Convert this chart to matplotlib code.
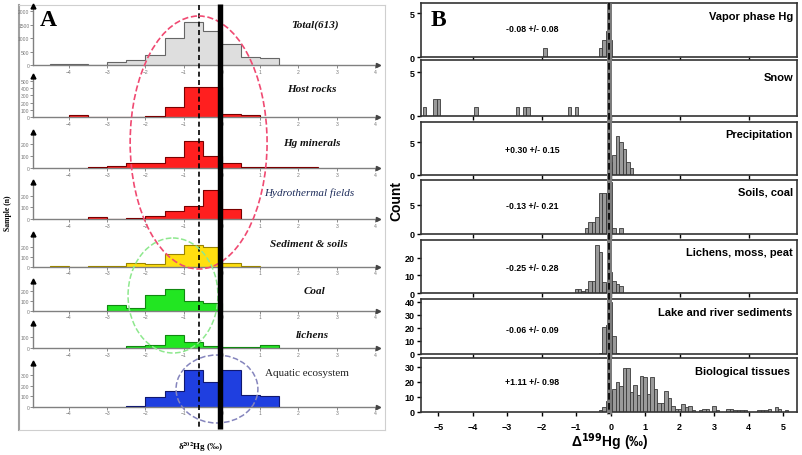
import numpy as np
import matplotlib.pyplot as plt
from matplotlib.patches import Ellipse

plt.rcParams['font.family'] = ['Liberation Sans', 'DejaVu Sans']

W, H = 803, 456

# ---------------- Panel A data (delta202Hg, 0.5 permil bins) ----------------
a_names = ['Total(613)', 'Host rocks', 'Hg minerals', 'Hydrothermal fields',
           'Sediment & soils', 'Coal', 'lichens', 'Aquatic ecosystem']
a_starts = [-4.5, -4.0, -3.5, -3.5, -4.5, -3.0, -2.5, -2.5]
total_n = [20, 55, 15, 130, 175, 375, 1020, 1620, 1250, 800, 300, 265, 10]
host_n = [25, 0, 0, 4, 22, 145, 418, 418, 45, 36]
hgmin_n = [6, 14, 39, 39, 94, 228, 103, 39, 6, 6, 6, 6]
hydro_n = [15, 0, 12, 28, 71, 114, 248, 85]
sed_n = [6, 0, 5, 8, 35, 25, 127, 220, 200, 33, 5]
coal_n = [57, 23, 160, 217, 93, 77]
lichA_n = [16, 28, 125, 53, 16, 6, 6, 31]
aqua_n = [5, 88, 145, 347, 230, 347, 114, 98]
a_counts = [total_n, host_n, hgmin_n, hydro_n, sed_n, coal_n, lichA_n, aqua_n]
a_ytop = [2200, 570, 302, 319, 327, 300, 234, 414]
a_yticks = [[0, 500, 1000, 1500, 2000], [0, 100, 200, 300, 400, 500],
            [0, 100, 200], [0, 100, 200], [0, 100, 200], [0, 100, 200],
            [0, 100], [0, 100, 200, 300]]
a_fill = ['#dedede', '#ff1f1f', '#ff1f1f', '#ff1f1f', '#ffdf10', '#22e622', '#22e622', '#1f3fe0']
a_edge = ['#666666', '#7a0000', '#7a0000', '#7a0000', '#9a8400', '#118811', '#118811', '#101870']

# ---------------- Panel B data (Delta199Hg, 0.1 permil bins) ----------------
b_names = ['Vapor phase Hg', 'Snow', 'Precipitation', 'Soils, coal',
           'Lichens, moss, peat', 'Lake and river sediments', 'Biological tissues']
b_stats = ['-0.08 +/- 0.08', '', '+0.30 +/- 0.15', '-0.13 +/- 0.21',
           '-0.25 +/- 0.28', '-0.06 +/- 0.09', '+1.11 +/- 0.98']
vapor_x = [-1.9, -0.3, -0.2, -0.1, 0.0]
vapor_n = [1, 1, 2, 3, 2]
snow_x = [-5.4, -5.1, -5.0, -3.9, -2.7, -2.5, -2.4, -1.2, -1.0]
snow_n = [1, 2, 2, 1, 1, 1, 1, 1, 1]
precip_x = [0.0, 0.1, 0.2, 0.3, 0.4, 0.5, 0.6]
precip_n = [2, 3, 6, 5, 4, 2, 1]
soil_x = [-0.7, -0.6, -0.5, -0.4, -0.3, -0.2, -0.1, 0.0, 0.1, 0.3]
soil_n = [1, 2, 2, 3, 7, 7, 7, 9, 1, 1]
lich_x = [-1.0, -0.9, -0.8, -0.7, -0.6, -0.5, -0.4, -0.3, -0.2, -0.1, 0.0, 0.1, 0.2, 0.3]
lich_n = [2, 2, 1, 2, 7, 7, 27, 23, 6, 5, 12, 7, 5, 4]
lake_x = [-0.3, -0.2, -0.1, 0.0, 0.1, 0.2]
lake_n = [1, 21, 22, 40, 14, 1]
bio_x = [-0.3, -0.2, -0.1, 0.0, 0.1, 0.2, 0.3, 0.4, 0.5, 0.6, 0.7, 0.8, 0.9, 1.0,
         1.1, 1.2, 1.3, 1.4, 1.5, 1.6, 1.7, 1.8, 1.9, 2.0, 2.1, 2.2, 2.3, 2.4,
         2.6, 2.7, 2.8, 3.0, 3.1, 3.4, 3.5, 3.6, 3.7, 3.8, 3.9, 4.3, 4.4, 4.5,
         4.6, 4.8, 4.9, 5.1]
bio_n = [1, 3, 7, 14, 15, 20, 17, 29, 29, 13, 18, 11, 24, 23,
         12, 23, 15, 6, 6, 14, 9, 4, 2, 2, 5, 3, 4, 1,
         1, 2, 2, 4, 1, 2, 2, 1, 1, 1, 1, 1, 1, 1,
         2, 3, 2, 1]
b_x = [vapor_x, snow_x, precip_x, soil_x, lich_x, lake_x, bio_x]
b_n = [vapor_n, snow_n, precip_n, soil_n, lich_n, lake_n, bio_n]
b_ytop = [6.2, 6.4, 8.1, 9.3, 30, 42, 35.8]
b_yticks = [[0, 5], [0, 5], [0, 5], [0, 5], [0, 10, 20], [0, 10, 20, 30, 40], [0, 10, 20, 30]]


fig = plt.figure(figsize=(W / 100, H / 100), dpi=100)


def px_axes(left, top, right, bottom, **kw):
    return fig.add_axes([left / W, 1 - bottom / H, (right - left) / W, (bottom - top) / H], **kw)


def fig_text(x, y, s, **kw):
    return fig.text(x / W, 1 - y / H, s, **kw)


# ---------------- Panel A ----------------
frame = px_axes(19, 6, 385, 431)
frame.set_xticks([])
frame.set_yticks([])
for sp in frame.spines.values():
    sp.set_color('#cfcfcf')
frame.spines['left'].set_color('#a0a0a0')
frame.spines['left'].set_linewidth(1.5)

a_xlim = (-4.94, 4.08)
a_boxes = [(7, 66), (76.7, 118.3), (132.7, 169), (182.7, 220),
           (235, 267.7), (281.7, 311.7), (324, 349), (364, 407.7)]
for i, (top, bot) in enumerate(a_boxes):
    ax = px_axes(33, top, 378, bot)
    ax.patch.set_alpha(0)
    counts = a_counts[i]
    edges = a_starts[i] + 0.5 * np.arange(len(counts) + 1)
    ax.stairs(counts, edges, fill=True, color=a_fill[i], zorder=2)
    ax.stairs(counts, edges, color=a_edge[i], lw=0.8, zorder=3)
    ax.set_xlim(*a_xlim)
    ax.set_ylim(0, a_ytop[i])
    for s in ['top', 'right']:
        ax.spines[s].set_visible(False)
    for s in ['left', 'bottom']:
        ax.spines[s].set_color('#808080')
        ax.spines[s].set_linewidth(1.0)
    ax.set_xticks(range(-4, 5))
    ax.set_yticks(a_yticks[i])
    ax.tick_params(length=2, width=0.6, colors='#777777', labelsize=3.6, pad=0.6)
    ax.plot([a_xlim[0]], [a_ytop[i]], marker='^', color='k', ms=3.5, clip_on=False, zorder=5)
    ax.plot([a_xlim[1]], [0], marker='>', color='#444444', ms=3, clip_on=False, zorder=5)

ova = px_axes(33, 0, 378, 456)
ova.set_xlim(*a_xlim)
ova.set_ylim(456, 0)
ova.axis('off')
ova.plot([-0.6, -0.6], [6, 431], color='k', lw=1.2, ls=(0, (3, 2)), zorder=6)
ova.plot([-0.05, -0.05], [5, 430], color='k', lw=3.9, solid_capstyle='butt', zorder=7)
ova.add_patch(Ellipse((-0.61, 143.5), 3.58, 253, fill=False, ec='#f04a72', ls='--', lw=1.2, zorder=6))
ova.add_patch(Ellipse((-1.28, 296.5), 2.35, 115, fill=False, ec='#8ee88e', ls='--', lw=1.1, zorder=6))
ova.add_patch(Ellipse((-0.13, 390), 2.14, 68, fill=False, ec='#8585bd', ls='--', lw=1.1, zorder=6))

serif = ['Liberation Serif', 'DejaVu Serif']
a_label_pos = [(315, 25), (312, 89), (312, 144), (309, 193),
               (309, 245), (315, 291.5), (312.5, 336), (307, 374)]
for i, (x, y) in enumerate(a_label_pos):
    style, weight, col = 'italic', 'bold', '#111111'
    if i == 3:
        weight, col = 'normal', '#1c2b5a'
    if i == 7:
        style, weight, col = 'normal', 'normal', '#222222'
    fig_text(x, y, a_names[i], ha='center', va='center', fontsize=8,
             family=serif, style=style, weight=weight, color=col)

fig_text(48.5, 20, 'A', ha='center', va='center', fontsize=17, family=serif, weight='bold')
fig_text(8, 213, 'Sample (n)', ha='center', va='center', rotation=90, fontsize=5.5,
         family=serif, weight='bold')
fig_text(201, 447.5, r'δ$^{\mathbf{202}}$Hg (‰)', ha='center', va='center', fontsize=6.5,
         family=serif, weight='bold', math_fontfamily='stix')

# ---------------- Panel B ----------------
b_xlim = (-5.5, 5.4)
b_boxes = [(4, 58), (61, 117), (123, 176), (181, 235), (241, 294), (300, 355), (359, 413)]
b_title_y = [0.765, 0.70, 0.77, 0.78, 0.78, 0.77, 0.75]
b_stat_y = [0.53, 0.5, 0.48, 0.52, 0.48, 0.45, 0.57]
for i, (top, bot) in enumerate(b_boxes):
    ax = px_axes(421, top, 797, bot)
    ax.bar(b_x[i], b_n[i], width=0.1, color='#9a9a9a', edgecolor='#3a3a3a', lw=0.6, zorder=2)
    ax.set_xlim(*b_xlim)
    ax.set_ylim(0, b_ytop[i])
    for sp in ax.spines.values():
        sp.set_color('#333333')
        sp.set_linewidth(1.2)
    ax.set_yticks(b_yticks[i])
    ax.tick_params(axis='y', length=3, width=1, direction='out', labelsize=6.5, pad=1.5)
    for lab in ax.get_yticklabels():
        lab.set_fontweight('bold')
    if i < len(b_boxes) - 1:
        ax.set_xticks([-4, -2, 0, 2, 4])
        ax.tick_params(axis='x', length=3, width=1, direction='out', labelbottom=False)
    else:
        ax.set_xticks(range(-5, 6))
        ax.tick_params(axis='x', length=3, width=1, direction='out', labelsize=6.5, pad=4)
        for lab in ax.get_xticklabels():
            lab.set_fontweight('bold')
    ax.text(0.989 if i < 6 else 0.982, b_title_y[i], b_names[i], transform=ax.transAxes,
            ha='right', va='center', fontsize=8, weight='bold')
    if b_stats[i]:
        ax.text(-2.28, b_stat_y[i], b_stats[i], transform=ax.get_xaxis_transform(),
                ha='center', va='center', fontsize=6.3, weight='bold')

ovb = px_axes(421, 0, 797, 456)
ovb.set_xlim(*b_xlim)
ovb.set_ylim(456, 0)
ovb.axis('off')
ovb.plot([-0.05, -0.05], [4, 415], color='#7c7c7c', lw=3.6, solid_capstyle='butt', zorder=6)
ovb.plot([-0.04, -0.04], [4, 415], color='k', lw=1.2, ls=(0, (4, 2)), zorder=7)

fig_text(438.5, 20, 'B', ha='center', va='center', fontsize=17, family=serif, weight='bold')
fig_text(396, 201, 'Count', ha='center', va='center', rotation=90, fontsize=10, weight='bold')
fig_text(610, 442, r'Δ$^{\mathbf{199}}$Hg (‰)', ha='center', va='center', fontsize=10,
         weight='bold')

fig.savefig('out.png', dpi=100)
